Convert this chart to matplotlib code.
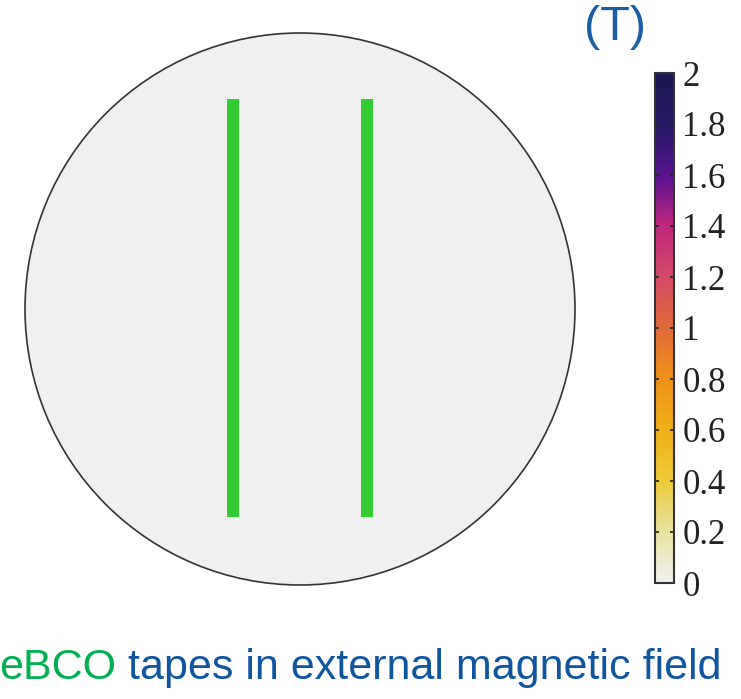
import numpy as np
import matplotlib
matplotlib.use('Agg')
from matplotlib import pyplot as plt
from matplotlib.colors import LinearSegmentedColormap
from matplotlib.patches import Circle

# field magnitude inside the domain (T) -- uniform zero before field is applied
field_value = 0.0
domain_radius = 1.0

# two tapes, in units of the domain radius
tape_x = [-0.244, 0.244]
tape_width = 0.044
tape_bottom = -0.753
tape_top = 0.76

cbar_ticks = [0, 0.2, 0.4, 0.6, 0.8, 1, 1.2, 1.4, 1.6, 1.8, 2]
cbar_labels = ['0', '0.2', '0.4', '0.6', '0.8', '1', '1.2', '1.4', '1.6', '1.8', '2']

cmap_colors = ['#f0f0f0', '#e8e2a0', '#ecca38', '#f0b018', '#f0901a',
               '#e26a3a', '#d24a66', '#c02880', '#5a1290', '#221862', '#1c1850']
cmap = LinearSegmentedColormap.from_list('field', cmap_colors)

W, H = 741, 699
fig = plt.figure(figsize=(W / 100, H / 100), dpi=100)

# axes a bit larger than the circle so the outline isn't clipped
m = 0.03
ax = fig.add_axes([(25 - 275 * m) / W, (H - 585 - 276 * m) / H,
                   550 * (1 + m) / W, 552 * (1 + m) / H])
ax.set_xlim(-1 - m, 1 + m)
ax.set_ylim(-1 - m, 1 + m)
ax.axis('off')

grid = np.full((50, 50), field_value)
im = ax.imshow(grid, cmap=cmap, vmin=0, vmax=2, extent=(-1 - m, 1 + m, -1 - m, 1 + m),
               interpolation='nearest', aspect='auto')
circ = Circle((0, 0), domain_radius, facecolor='none', edgecolor='#333333', linewidth=1.2)
ax.add_patch(circ)
im.set_clip_path(circ)

ax.bar(tape_x, tape_top - tape_bottom, width=tape_width, bottom=tape_bottom,
       color='#33cc33', linewidth=0)

cax = fig.add_axes([655 / W, (H - 583) / H, 19 / W, 510 / H])
cb = fig.colorbar(im, cax=cax, ticks=cbar_ticks)
cb.ax.set_yticklabels(cbar_labels, family='Liberation Serif', fontsize=25)
cb.ax.tick_params(direction='in', left=True, right=True, length=3, width=1.2, pad=6, colors='#222222')
for t in cb.ax.get_yticklabels():
    t.set_color('#222222')
cb.outline.set_linewidth(1.5)
cb.outline.set_edgecolor('#333333')

fig.text(615 / W, 1 - 5 / H, '(T)', family='Liberation Sans', fontsize=35,
         color='#1a5ea6', ha='center', va='top')

fig.canvas.draw()
t1 = fig.text(-1 / W, 20 / H, 'eBCO', family='Liberation Sans', fontsize=31,
              color='#00b050', ha='left', va='baseline')
fig.canvas.draw()
bb = t1.get_window_extent()
fig.text(bb.x1 / W, 20 / H, ' tapes in external magnetic field', family='Liberation Sans',
         fontsize=31, color='#0f56a0', ha='left', va='baseline')

fig.savefig('out.png', dpi=100)
